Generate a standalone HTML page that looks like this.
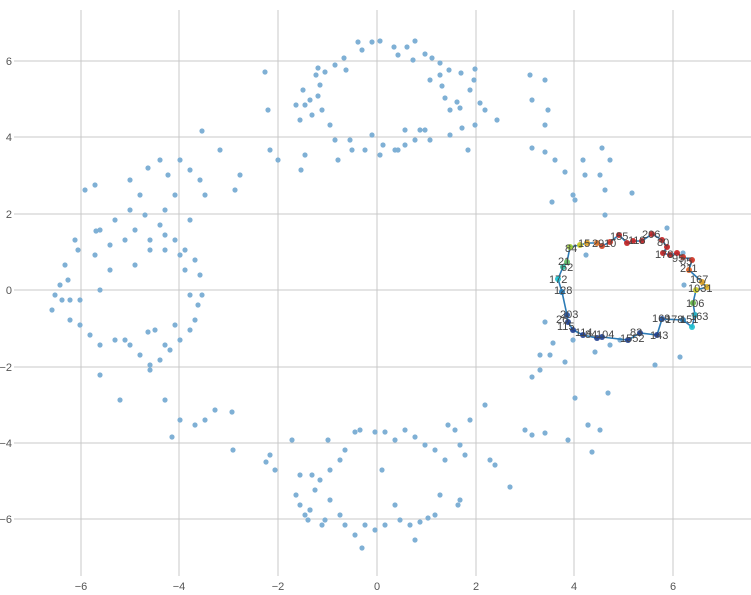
<!DOCTYPE html>
<html><head><meta charset="utf-8"><style>
html,body{margin:0;padding:0;background:#fff;}
svg{display:block;font-family:"Liberation Sans",sans-serif;}
</style></head><body>
<svg width="751" height="595" viewBox="0 0 751 595">
<g stroke="#c8c8c8" stroke-width="1">
<line x1="81" y1="10" x2="81" y2="576"/><line x1="179" y1="10" x2="179" y2="576"/>
<line x1="278" y1="10" x2="278" y2="576"/><line x1="377" y1="10" x2="377" y2="576"/>
<line x1="476" y1="10" x2="476" y2="576"/><line x1="574" y1="10" x2="574" y2="576"/>
<line x1="673" y1="10" x2="673" y2="576"/>
<line x1="14" y1="61" x2="751" y2="61"/><line x1="14" y1="137" x2="751" y2="137"/>
<line x1="14" y1="214" x2="751" y2="214"/><line x1="14" y1="290" x2="751" y2="290"/>
<line x1="14" y1="367" x2="751" y2="367"/><line x1="14" y1="443" x2="751" y2="443"/>
<line x1="14" y1="519" x2="751" y2="519"/>
</g>
<g font-size="11" fill="#555" text-anchor="middle">
<text x="81" y="590">−6</text><text x="179" y="590">−4</text><text x="278" y="590">−2</text>
<text x="377" y="590">0</text><text x="476" y="590">2</text><text x="574" y="590">4</text><text x="673" y="590">6</text>
</g>
<g font-size="11" fill="#555" text-anchor="end">
<text x="12" y="65">6</text><text x="12" y="141">4</text><text x="12" y="218">2</text><text x="12" y="294">0</text>
<text x="12" y="371">−2</text><text x="12" y="447">−4</text><text x="12" y="523">−6</text>
</g>
<g fill="#7fb0d5">
<circle cx="358" cy="42" r="2.6"/><circle cx="372" cy="42" r="2.6"/><circle cx="380" cy="41" r="2.6"/><circle cx="394" cy="47" r="2.6"/><circle cx="407" cy="47" r="2.6"/><circle cx="415" cy="41" r="2.6"/><circle cx="425" cy="54" r="2.6"/><circle cx="432" cy="58" r="2.6"/><circle cx="440" cy="63" r="2.6"/><circle cx="440" cy="75" r="2.6"/><circle cx="449" cy="70" r="2.6"/><circle cx="461" cy="73" r="2.6"/><circle cx="475" cy="69" r="2.6"/><circle cx="474" cy="80" r="2.6"/><circle cx="470" cy="90" r="2.6"/><circle cx="457" cy="102" r="2.6"/><circle cx="460" cy="108" r="2.6"/><circle cx="450" cy="110" r="2.6"/><circle cx="445" cy="98" r="2.6"/><circle cx="442" cy="86" r="2.6"/><circle cx="430" cy="80" r="2.6"/><circle cx="413" cy="60" r="2.6"/><circle cx="398" cy="55" r="2.6"/><circle cx="362" cy="50" r="2.6"/><circle cx="344" cy="58" r="2.6"/><circle cx="346" cy="70" r="2.6"/><circle cx="335" cy="65" r="2.6"/><circle cx="325" cy="72" r="2.6"/><circle cx="316" cy="75" r="2.6"/><circle cx="318" cy="68" r="2.6"/><circle cx="320" cy="85" r="2.6"/><circle cx="318" cy="96" r="2.6"/><circle cx="310" cy="100" r="2.6"/><circle cx="305" cy="105" r="2.6"/><circle cx="300" cy="120" r="2.6"/><circle cx="312" cy="115" r="2.6"/><circle cx="330" cy="125" r="2.6"/><circle cx="322" cy="110" r="2.6"/><circle cx="296" cy="105" r="2.6"/><circle cx="303" cy="90" r="2.6"/><circle cx="350" cy="140" r="2.6"/><circle cx="352" cy="150" r="2.6"/><circle cx="365" cy="150" r="2.6"/><circle cx="380" cy="155" r="2.6"/><circle cx="395" cy="150" r="2.6"/><circle cx="405" cy="145" r="2.6"/><circle cx="415" cy="140" r="2.6"/><circle cx="425" cy="130" r="2.6"/><circle cx="430" cy="140" r="2.6"/><circle cx="450" cy="135" r="2.6"/><circle cx="462" cy="128" r="2.6"/><circle cx="475" cy="125" r="2.6"/><circle cx="480" cy="103" r="2.6"/><circle cx="485" cy="110" r="2.6"/><circle cx="497" cy="120" r="2.6"/><circle cx="468" cy="150" r="2.6"/><circle cx="372" cy="135" r="2.6"/><circle cx="405" cy="130" r="2.6"/><circle cx="420" cy="130" r="2.6"/><circle cx="398" cy="150" r="2.6"/><circle cx="383" cy="145" r="2.6"/><circle cx="335" cy="140" r="2.6"/><circle cx="338" cy="160" r="2.6"/><circle cx="305" cy="155" r="2.6"/><circle cx="301" cy="170" r="2.6"/><circle cx="278" cy="160" r="2.6"/><circle cx="270" cy="150" r="2.6"/><circle cx="265" cy="72" r="2.6"/><circle cx="268" cy="110" r="2.6"/>
<circle cx="95" cy="185" r="2.6"/><circle cx="85" cy="190" r="2.6"/><circle cx="75" cy="240" r="2.6"/><circle cx="65" cy="265" r="2.6"/><circle cx="78" cy="250" r="2.6"/><circle cx="95" cy="255" r="2.6"/><circle cx="100" cy="230" r="2.6"/><circle cx="115" cy="220" r="2.6"/><circle cx="130" cy="210" r="2.6"/><circle cx="145" cy="215" r="2.6"/><circle cx="160" cy="225" r="2.6"/><circle cx="165" cy="235" r="2.6"/><circle cx="175" cy="240" r="2.6"/><circle cx="185" cy="250" r="2.6"/><circle cx="195" cy="260" r="2.6"/><circle cx="200" cy="275" r="2.6"/><circle cx="202" cy="295" r="2.6"/><circle cx="198" cy="305" r="2.6"/><circle cx="195" cy="320" r="2.6"/><circle cx="190" cy="330" r="2.6"/><circle cx="180" cy="340" r="2.6"/><circle cx="170" cy="350" r="2.6"/><circle cx="160" cy="360" r="2.6"/><circle cx="150" cy="365" r="2.6"/><circle cx="140" cy="355" r="2.6"/><circle cx="130" cy="345" r="2.6"/><circle cx="115" cy="340" r="2.6"/><circle cx="100" cy="345" r="2.6"/><circle cx="90" cy="335" r="2.6"/><circle cx="80" cy="325" r="2.6"/><circle cx="70" cy="320" r="2.6"/><circle cx="62" cy="300" r="2.6"/><circle cx="55" cy="295" r="2.6"/><circle cx="52" cy="310" r="2.6"/><circle cx="60" cy="285" r="2.6"/><circle cx="68" cy="280" r="2.6"/><circle cx="110" cy="245" r="2.6"/><circle cx="125" cy="240" r="2.6"/><circle cx="135" cy="230" r="2.6"/><circle cx="150" cy="240" r="2.6"/><circle cx="165" cy="250" r="2.6"/><circle cx="180" cy="255" r="2.6"/><circle cx="185" cy="270" r="2.6"/><circle cx="190" cy="295" r="2.6"/><circle cx="175" cy="325" r="2.6"/><circle cx="165" cy="345" r="2.6"/><circle cx="155" cy="330" r="2.6"/><circle cx="150" cy="370" r="2.6"/><circle cx="100" cy="375" r="2.6"/><circle cx="120" cy="400" r="2.6"/><circle cx="148" cy="332" r="2.6"/><circle cx="125" cy="340" r="2.6"/><circle cx="96" cy="231" r="2.6"/><circle cx="130" cy="180" r="2.6"/><circle cx="140" cy="195" r="2.6"/><circle cx="148" cy="168" r="2.6"/><circle cx="160" cy="160" r="2.6"/><circle cx="168" cy="175" r="2.6"/><circle cx="180" cy="160" r="2.6"/><circle cx="190" cy="170" r="2.6"/><circle cx="200" cy="180" r="2.6"/><circle cx="202" cy="131" r="2.6"/><circle cx="220" cy="150" r="2.6"/><circle cx="235" cy="190" r="2.6"/><circle cx="240" cy="175" r="2.6"/><circle cx="205" cy="195" r="2.6"/><circle cx="190" cy="220" r="2.6"/><circle cx="175" cy="195" r="2.6"/><circle cx="165" cy="210" r="2.6"/><circle cx="150" cy="250" r="2.6"/><circle cx="135" cy="265" r="2.6"/><circle cx="110" cy="270" r="2.6"/><circle cx="100" cy="290" r="2.6"/><circle cx="80" cy="300" r="2.6"/><circle cx="70" cy="300" r="2.6"/><circle cx="165" cy="400" r="2.6"/><circle cx="180" cy="420" r="2.6"/><circle cx="205" cy="420" r="2.6"/><circle cx="215" cy="410" r="2.6"/><circle cx="232" cy="412" r="2.6"/><circle cx="195" cy="425" r="2.6"/><circle cx="172" cy="437" r="2.6"/><circle cx="233" cy="450" r="2.6"/>
<circle cx="270" cy="455" r="2.6"/><circle cx="266" cy="462" r="2.6"/><circle cx="275" cy="470" r="2.6"/><circle cx="292" cy="440" r="2.6"/><circle cx="296" cy="495" r="2.6"/><circle cx="300" cy="505" r="2.6"/><circle cx="310" cy="510" r="2.6"/><circle cx="315" cy="490" r="2.6"/><circle cx="312" cy="475" r="2.6"/><circle cx="320" cy="480" r="2.6"/><circle cx="330" cy="470" r="2.6"/><circle cx="340" cy="460" r="2.6"/><circle cx="345" cy="450" r="2.6"/><circle cx="355" cy="432" r="2.6"/><circle cx="360" cy="430" r="2.6"/><circle cx="375" cy="432" r="2.6"/><circle cx="385" cy="432" r="2.6"/><circle cx="395" cy="440" r="2.6"/><circle cx="405" cy="430" r="2.6"/><circle cx="415" cy="437" r="2.6"/><circle cx="425" cy="445" r="2.6"/><circle cx="435" cy="450" r="2.6"/><circle cx="445" cy="460" r="2.6"/><circle cx="460" cy="445" r="2.6"/><circle cx="465" cy="455" r="2.6"/><circle cx="470" cy="420" r="2.6"/><circle cx="485" cy="405" r="2.6"/><circle cx="490" cy="460" r="2.6"/><circle cx="495" cy="465" r="2.6"/><circle cx="510" cy="487" r="2.6"/><circle cx="460" cy="500" r="2.6"/><circle cx="458" cy="505" r="2.6"/><circle cx="440" cy="495" r="2.6"/><circle cx="435" cy="515" r="2.6"/><circle cx="428" cy="518" r="2.6"/><circle cx="420" cy="522" r="2.6"/><circle cx="410" cy="525" r="2.6"/><circle cx="400" cy="520" r="2.6"/><circle cx="415" cy="540" r="2.6"/><circle cx="395" cy="505" r="2.6"/><circle cx="385" cy="525" r="2.6"/><circle cx="375" cy="530" r="2.6"/><circle cx="365" cy="525" r="2.6"/><circle cx="362" cy="548" r="2.6"/><circle cx="355" cy="535" r="2.6"/><circle cx="345" cy="525" r="2.6"/><circle cx="340" cy="515" r="2.6"/><circle cx="325" cy="520" r="2.6"/><circle cx="322" cy="525" r="2.6"/><circle cx="308" cy="520" r="2.6"/><circle cx="310" cy="510" r="2.6"/><circle cx="305" cy="515" r="2.6"/><circle cx="330" cy="500" r="2.6"/><circle cx="300" cy="475" r="2.6"/><circle cx="328" cy="440" r="2.6"/><circle cx="382" cy="470" r="2.6"/><circle cx="448" cy="425" r="2.6"/><circle cx="455" cy="430" r="2.6"/><circle cx="525" cy="430" r="2.6"/><circle cx="532" cy="435" r="2.6"/><circle cx="545" cy="433" r="2.6"/><circle cx="568" cy="440" r="2.6"/><circle cx="588" cy="425" r="2.6"/><circle cx="592" cy="452" r="2.6"/><circle cx="600" cy="430" r="2.6"/>
<circle cx="530" cy="75" r="2.6"/><circle cx="545" cy="80" r="2.6"/><circle cx="532" cy="100" r="2.6"/><circle cx="548" cy="110" r="2.6"/><circle cx="545" cy="125" r="2.6"/><circle cx="545" cy="152" r="2.6"/><circle cx="532" cy="148" r="2.6"/><circle cx="555" cy="160" r="2.6"/><circle cx="565" cy="172" r="2.6"/><circle cx="573" cy="195" r="2.6"/><circle cx="585" cy="175" r="2.6"/><circle cx="600" cy="175" r="2.6"/><circle cx="605" cy="190" r="2.6"/><circle cx="602" cy="148" r="2.6"/><circle cx="610" cy="160" r="2.6"/><circle cx="632" cy="193" r="2.6"/><circle cx="583" cy="160" r="2.6"/><circle cx="552" cy="202" r="2.6"/><circle cx="575" cy="200" r="2.6"/><circle cx="605" cy="215" r="2.6"/><circle cx="586" cy="255" r="2.6"/><circle cx="667" cy="228" r="2.6"/><circle cx="683" cy="253" r="2.6"/><circle cx="684" cy="285" r="2.6"/><circle cx="680" cy="357" r="2.6"/><circle cx="610" cy="345" r="2.6"/><circle cx="595" cy="352" r="2.6"/><circle cx="655" cy="365" r="2.6"/><circle cx="545" cy="322" r="2.6"/><circle cx="550" cy="355" r="2.6"/><circle cx="540" cy="355" r="2.6"/><circle cx="532" cy="377" r="2.6"/><circle cx="540" cy="370" r="2.6"/><circle cx="575" cy="398" r="2.6"/><circle cx="608" cy="393" r="2.6"/><circle cx="588" cy="425" r="2.6"/><circle cx="565" cy="362" r="2.6"/><circle cx="553" cy="343" r="2.6"/><circle cx="620" cy="340" r="2.6"/><circle cx="573" cy="340" r="2.6"/>
</g>
<polyline fill="none" stroke="#2c7bb6" stroke-width="1.6" points="570,247 580,245 587,243 597,243 602,246 610,242 619,235 627,243 633,241 642,241 652,234 662,240 667,247 663,253 670,255 677,253 683,257 692,260 689,270 702,282 707,287 696,290 693,303 695,315 692,327 683,320 662,319 657,335 640,333 628,340 602,337 597,338 583,335 573,330 568,322 567,315 562,292 558,279 563,267 567,262 570,247"/>
<g opacity="0.9">
<circle cx="570" cy="247" r="3" fill="#9acd32"/><circle cx="580" cy="245" r="3" fill="#c8c820"/><circle cx="587" cy="243" r="3" fill="#e0a020"/><circle cx="597" cy="243" r="3" fill="#e07020"/><circle cx="602" cy="246" r="3" fill="#d04020"/><circle cx="610" cy="242" r="3" fill="#d03020"/><circle cx="619" cy="235" r="3" fill="#c02020"/><circle cx="627" cy="243" r="3" fill="#c02020"/><circle cx="633" cy="241" r="3" fill="#c82020"/><circle cx="642" cy="241" r="3" fill="#c02020"/><circle cx="652" cy="234" r="3" fill="#c02020"/><circle cx="662" cy="240" r="3" fill="#c02020"/><circle cx="667" cy="247" r="3" fill="#c02020"/><circle cx="663" cy="253" r="3" fill="#c02020"/><circle cx="670" cy="255" r="3" fill="#c02020"/><circle cx="677" cy="253" r="3" fill="#c82020"/><circle cx="683" cy="257" r="3" fill="#d03020"/><circle cx="692" cy="260" r="3" fill="#d03020"/><circle cx="689" cy="270" r="3" fill="#e06020"/><circle cx="702" cy="282" r="3" fill="#e0a020"/><circle cx="707" cy="287" r="3" fill="#e0b020"/><circle cx="696" cy="290" r="3" fill="#d0d020"/><circle cx="693" cy="303" r="3" fill="#60b040"/><circle cx="695" cy="315" r="3" fill="#20b0c0"/><circle cx="692" cy="327" r="3" fill="#20c0d0"/><circle cx="683" cy="320" r="3" fill="#1f77b4"/><circle cx="662" cy="319" r="3" fill="#1f4f9f"/><circle cx="657" cy="335" r="3" fill="#1f3f8f"/><circle cx="640" cy="333" r="3" fill="#1f3f8f"/><circle cx="628" cy="340" r="3" fill="#1f3f8f"/><circle cx="602" cy="337" r="3" fill="#1f3f8f"/><circle cx="597" cy="338" r="3" fill="#1f3f8f"/><circle cx="583" cy="335" r="3" fill="#1f3f8f"/><circle cx="573" cy="330" r="3" fill="#1f3f8f"/><circle cx="568" cy="322" r="3" fill="#1f3f8f"/><circle cx="567" cy="315" r="3" fill="#1f4f9f"/><circle cx="562" cy="292" r="3" fill="#1f77b4"/><circle cx="558" cy="279" r="3" fill="#19c0d0"/><circle cx="563" cy="267" r="3" fill="#30c0a0"/><circle cx="567" cy="262" r="3" fill="#60c060"/>
</g>
<g font-size="11" fill="#444">
<text x="565" y="252">84</text><text x="578" y="247">15</text><text x="592" y="247">29</text><text x="604" y="247">10</text>
<text x="610" y="240">155</text><text x="628" y="244">118</text><text x="642" y="238">206</text><text x="657" y="246">80</text>
<text x="655" y="258">178</text><text x="672" y="262">95</text><text x="680" y="265">05</text><text x="680" y="272">211</text>
<text x="690" y="283">167</text><text x="688" y="292">1031</text><text x="686" y="307">106</text><text x="690" y="320">163</text>
<text x="680" y="323">151</text><text x="652" y="322">169</text><text x="665" y="323">178</text>
<text x="630" y="336">83</text><text x="620" y="342">1552</text><text x="650" y="339">143</text>
<text x="558" y="265">21</text><text x="561" y="271">62</text><text x="549" y="283">172</text><text x="554" y="294">128</text>
<text x="560" y="318">203</text><text x="556" y="323">26</text><text x="557" y="330">115</text><text x="575" y="336">114</text>
<text x="585" y="338">84</text><text x="596" y="338">104</text>
</g>
</svg>
</body></html>
